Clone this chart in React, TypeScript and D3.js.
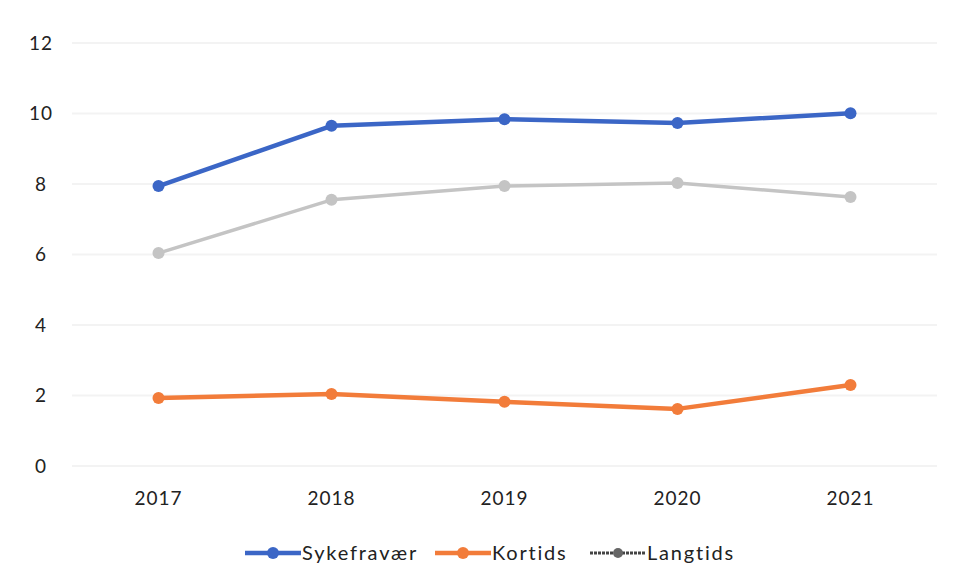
import { useEffect, useRef } from 'react';
import * as d3 from 'd3';

// Årstall og verdier lest av figuren
const years = ['2017', '2018', '2019', '2020', '2021'];
const sykefravaer = [7.94, 9.65, 9.84, 9.73, 10.01];
const kortids = [1.93, 2.04, 1.82, 1.62, 2.3];
const langtids = [6.04, 7.55, 7.94, 8.03, 7.63];
const yTicks = [0, 2, 4, 6, 8, 10, 12];

const seriesNames = ['Sykefravær', 'Kortids', 'Langtids'];
const seriesColors = ['#3b66c6', '#f27c3a', '#c4c4c4'];

export default function App() {
  const ref = useRef<SVGSVGElement>(null);

  useEffect(() => {
    if (!ref.current) return;
    const svg = d3.select(ref.current);
    svg.selectAll('*').remove();

    const width = 957;
    const height = 582;
    const margin = { top: 43, left: 72 };
    const innerW = 937 - margin.left;
    const innerH = 466 - margin.top;

    const font = 'Lato, "Open Sans", sans-serif';

    const x = d3.scaleBand().domain(years).range([0, innerW]);
    const y = d3.scaleLinear().domain([0, 12]).range([innerH, 0]);

    svg.append('rect').attr('width', width).attr('height', height).attr('fill', '#fff');

    const g = svg.append('g').attr('transform', `translate(${margin.left},${margin.top})`);

    // Rutenett
    g.selectAll('.grid')
      .data(yTicks)
      .enter()
      .append('line')
      .attr('x1', 0)
      .attr('x2', innerW)
      .attr('y1', d => y(d))
      .attr('y2', d => y(d))
      .attr('stroke', '#f3f3f3')
      .attr('stroke-width', 2);

    // Y-akse etiketter
    g.selectAll('.ylab')
      .data(yTicks)
      .enter()
      .append('text')
      .attr('x', -31)
      .attr('y', d => y(d))
      .attr('dy', '0.35em')
      .attr('text-anchor', 'middle')
      .attr('font-family', font)
      .attr('font-size', 19)
      .attr('letter-spacing', 1)
      .attr('fill', '#222')
      .text(d => d);

    // X-akse etiketter
    g.selectAll('.xlab')
      .data(years)
      .enter()
      .append('text')
      .attr('x', d => (x(d) as number) + x.bandwidth() / 2)
      .attr('y', innerH + 32)
      .attr('dy', '0.35em')
      .attr('text-anchor', 'middle')
      .attr('font-family', font)
      .attr('font-size', 19)
      .attr('letter-spacing', 1)
      .attr('fill', '#222')
      .text(d => d);

    const series = [sykefravaer, kortids, langtids];
    const line = d3
      .line<number>()
      .x((_, i) => (x(years[i]) as number) + x.bandwidth() / 2)
      .y(d => y(d));

    // Tegn grå først så den ligger bak
    [2, 1, 0].forEach(s => {
      const vals = series[s];
      const col = seriesColors[s];
      g.append('path')
        .datum(vals)
        .attr('d', line)
        .attr('fill', 'none')
        .attr('stroke', col)
        .attr('stroke-width', s === 2 ? 3.5 : 4.5)
        .attr('stroke-linejoin', 'round');
      g.selectAll(`.pt${s}`)
        .data(vals)
        .enter()
        .append('circle')
        .attr('cx', (_, i) => (x(years[i]) as number) + x.bandwidth() / 2)
        .attr('cy', d => y(d))
        .attr('r', 6)
        .attr('fill', col);
    });

    // Forklaring
    const legendX = [245, 435, 590];
    const legend = svg.append('g').attr('transform', 'translate(0,553)');
    seriesNames.forEach((name, i) => {
      const lx = legendX[i];
      const grey = i === 2;
      legend
        .append('line')
        .attr('x1', lx)
        .attr('x2', lx + 56)
        .attr('stroke', grey ? '#444' : seriesColors[i])
        .attr('stroke-width', grey ? 3 : 4.5)
        .attr('stroke-dasharray', grey ? '3,1' : null);
      legend
        .append('circle')
        .attr('cx', lx + 28)
        .attr('r', grey ? 5 : 6)
        .attr('fill', grey ? '#666' : seriesColors[i]);
      legend
        .append('text')
        .attr('x', lx + 57)
        .attr('dy', '0.35em')
        .attr('font-family', font)
        .attr('font-size', 20)
        .attr('letter-spacing', 1.8)
        .attr('fill', '#222')
        .text(name);
    });
  }, []);

  return (
    <div style={{ margin: -8 }}>
      <svg ref={ref} width={957} height={582} style={{ display: 'block' }} />
    </div>
  );
}
